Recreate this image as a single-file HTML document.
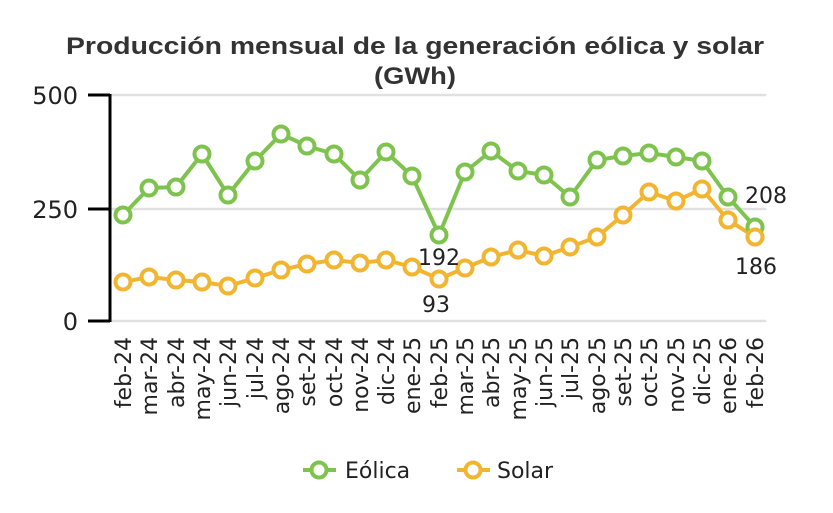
<!DOCTYPE html>
<html><head><meta charset="utf-8"><style>
body{margin:0;background:#fff;}
svg{display:block;font-family:"DejaVu Sans","Liberation Sans",sans-serif;}
</style></head><body>
<svg width="833" height="513" viewBox="0 0 833 513">
<rect width="833" height="513" fill="#fff"/>
<text x="415" y="54" text-anchor="middle" font-size="24" font-weight="bold" fill="#333" font-family="Liberation Sans, sans-serif" textLength="698" lengthAdjust="spacingAndGlyphs">Producción mensual de la generación eólica y solar</text>
<text x="415" y="84" text-anchor="middle" font-size="24" font-weight="bold" fill="#333" font-family="Liberation Sans, sans-serif" textLength="82" lengthAdjust="spacingAndGlyphs">(GWh)</text>
<g stroke="#e0e0e0" stroke-width="2.5">
<line x1="111" y1="95" x2="766" y2="95"/>
<line x1="111" y1="209" x2="766" y2="209"/>
<line x1="111" y1="321" x2="766" y2="321"/>
</g>
<g stroke="#000" stroke-width="3">
<line x1="110" y1="94" x2="110" y2="322"/>
<line x1="88" y1="95" x2="110" y2="95"/>
<line x1="88" y1="209" x2="110" y2="209"/>
<line x1="88" y1="321" x2="110" y2="321"/>
</g>
<g font-size="24" fill="#222" text-anchor="end">
<text x="78" y="104">500</text>
<text x="78" y="218">250</text>
<text x="78" y="330">0</text>
</g>
<polyline fill="none" stroke="#7fc34f" stroke-width="4" points="123,215 149,188 176,187 202,154 228,195 255,161 281,134 307,146 334,154 360,180 386,152 412,176 439,235 465,172 491,151 518,171 544,175 570,197 597,160 623,156 649,153 676,157 702,161 728,197 755,227"/>
<polyline fill="none" stroke="#f2b530" stroke-width="4" points="123,282 149,277 176,280 202,282 228,286 255,278 281,270 307,264 334,260 360,263 386,260 412,267 439,279 465,268 491,257 518,250 544,256 570,247 597,237 623,215 649,192 676,201 702,189 728,220 755,237"/>
<g fill="#fff" stroke="#7fc34f" stroke-width="4">
<circle cx="123" cy="215" r="7.5"/><circle cx="149" cy="188" r="7.5"/><circle cx="176" cy="187" r="7.5"/><circle cx="202" cy="154" r="7.5"/><circle cx="228" cy="195" r="7.5"/><circle cx="255" cy="161" r="7.5"/><circle cx="281" cy="134" r="7.5"/><circle cx="307" cy="146" r="7.5"/><circle cx="334" cy="154" r="7.5"/><circle cx="360" cy="180" r="7.5"/><circle cx="386" cy="152" r="7.5"/><circle cx="412" cy="176" r="7.5"/><circle cx="439" cy="235" r="7.5"/><circle cx="465" cy="172" r="7.5"/><circle cx="491" cy="151" r="7.5"/><circle cx="518" cy="171" r="7.5"/><circle cx="544" cy="175" r="7.5"/><circle cx="570" cy="197" r="7.5"/><circle cx="597" cy="160" r="7.5"/><circle cx="623" cy="156" r="7.5"/><circle cx="649" cy="153" r="7.5"/><circle cx="676" cy="157" r="7.5"/><circle cx="702" cy="161" r="7.5"/><circle cx="728" cy="197" r="7.5"/><circle cx="755" cy="227" r="7.5"/>
</g>
<g fill="#fff" stroke="#f2b530" stroke-width="4">
<circle cx="123" cy="282" r="7.5"/><circle cx="149" cy="277" r="7.5"/><circle cx="176" cy="280" r="7.5"/><circle cx="202" cy="282" r="7.5"/><circle cx="228" cy="286" r="7.5"/><circle cx="255" cy="278" r="7.5"/><circle cx="281" cy="270" r="7.5"/><circle cx="307" cy="264" r="7.5"/><circle cx="334" cy="260" r="7.5"/><circle cx="360" cy="263" r="7.5"/><circle cx="386" cy="260" r="7.5"/><circle cx="412" cy="267" r="7.5"/><circle cx="439" cy="279" r="7.5"/><circle cx="465" cy="268" r="7.5"/><circle cx="491" cy="257" r="7.5"/><circle cx="518" cy="250" r="7.5"/><circle cx="544" cy="256" r="7.5"/><circle cx="570" cy="247" r="7.5"/><circle cx="597" cy="237" r="7.5"/><circle cx="623" cy="215" r="7.5"/><circle cx="649" cy="192" r="7.5"/><circle cx="676" cy="201" r="7.5"/><circle cx="702" cy="189" r="7.5"/><circle cx="728" cy="220" r="7.5"/><circle cx="755" cy="237" r="7.5"/>
</g>
<g font-size="22" fill="#222" text-anchor="middle">
<text x="439" y="265">192</text>
<text x="436" y="312">93</text>
<text x="766" y="203">208</text>
<text x="756" y="274">186</text>
</g>
<g font-size="22" fill="#222" text-anchor="end">
<text transform="translate(123,337) rotate(-90)" dy="8">feb-24</text>
<text transform="translate(149,337) rotate(-90)" dy="8">mar-24</text>
<text transform="translate(176,337) rotate(-90)" dy="8">abr-24</text>
<text transform="translate(202,337) rotate(-90)" dy="8">may-24</text>
<text transform="translate(228,337) rotate(-90)" dy="8">jun-24</text>
<text transform="translate(255,337) rotate(-90)" dy="8">jul-24</text>
<text transform="translate(281,337) rotate(-90)" dy="8">ago-24</text>
<text transform="translate(307,337) rotate(-90)" dy="8">set-24</text>
<text transform="translate(334,337) rotate(-90)" dy="8">oct-24</text>
<text transform="translate(360,337) rotate(-90)" dy="8">nov-24</text>
<text transform="translate(386,337) rotate(-90)" dy="8">dic-24</text>
<text transform="translate(412,337) rotate(-90)" dy="8">ene-25</text>
<text transform="translate(439,337) rotate(-90)" dy="8">feb-25</text>
<text transform="translate(465,337) rotate(-90)" dy="8">mar-25</text>
<text transform="translate(491,337) rotate(-90)" dy="8">abr-25</text>
<text transform="translate(518,337) rotate(-90)" dy="8">may-25</text>
<text transform="translate(544,337) rotate(-90)" dy="8">jun-25</text>
<text transform="translate(570,337) rotate(-90)" dy="8">jul-25</text>
<text transform="translate(597,337) rotate(-90)" dy="8">ago-25</text>
<text transform="translate(623,337) rotate(-90)" dy="8">set-25</text>
<text transform="translate(649,337) rotate(-90)" dy="8">oct-25</text>
<text transform="translate(676,337) rotate(-90)" dy="8">nov-25</text>
<text transform="translate(702,337) rotate(-90)" dy="8">dic-25</text>
<text transform="translate(728,337) rotate(-90)" dy="8">ene-26</text>
<text transform="translate(755,337) rotate(-90)" dy="8">feb-26</text>
</g>
<line x1="303" y1="470" x2="336" y2="470" stroke="#7fc34f" stroke-width="4"/>
<circle cx="319" cy="470" r="7.5" fill="#fff" stroke="#7fc34f" stroke-width="4"/>
<text x="345" y="478" font-size="22" fill="#222">Eólica</text>
<line x1="457" y1="470" x2="490" y2="470" stroke="#f2b530" stroke-width="4"/>
<circle cx="473" cy="470" r="7.5" fill="#fff" stroke="#f2b530" stroke-width="4"/>
<text x="497" y="478" font-size="22" fill="#222">Solar</text>
</svg>
</body></html>
